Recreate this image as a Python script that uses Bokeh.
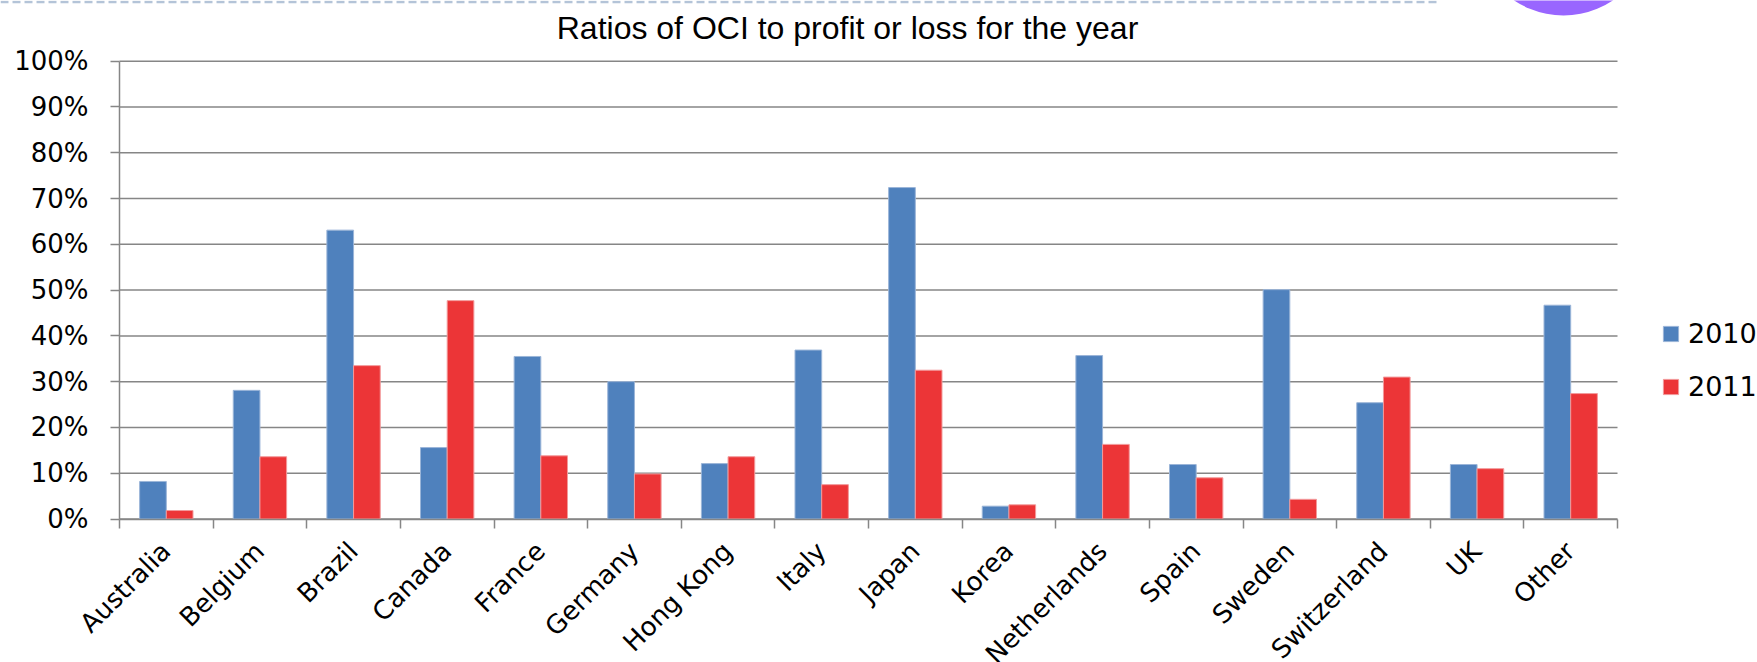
import numpy as np
from bokeh.plotting import figure
from bokeh.models import (Range1d, FixedTicker, PrintfTickFormatter, Legend, LegendItem, Label)
from bokeh.core.properties import value
from bokeh.embed import file_html
from bokeh.resources import INLINE

# ---------------- data ----------------
categories = ["Australia", "Belgium", "Brazil", "Canada", "France", "Germany",
              "Hong Kong", "Italy", "Japan", "Korea", "Netherlands", "Spain",
              "Sweden", "Switzerland", "UK", "Other"]
ratio_2010 = [8.2, 28.1, 63.1, 15.6, 35.5, 30.0, 12.1, 36.9, 72.4, 2.8, 35.7, 11.9, 50.1, 25.4, 11.9, 46.7]
ratio_2011 = [1.85, 13.6, 33.5, 47.7, 13.8, 9.85, 13.6, 7.5, 32.5, 3.1, 16.3, 9.0, 4.3, 31.0, 11.0, 27.4]
series_names = ["2010", "2011"]
y_ticks = [0, 10, 20, 30, 40, 50, 60, 70, 80, 90, 100]
title_text = "Ratios of OCI to profit or loss for the year"

# ---------------- layout (pixels on the 1757x662 page) ----------------
W, H = 1757, 662
FRAME_L, FRAME_R = 119, 1617      # plot area left / right
Y0_PX, Y100_PX = 518.5, 60.7      # 0% and 100% gridlines
n = len(categories)
KX = (FRAME_R - FRAME_L) / n
KY = (Y0_PX - Y100_PX) / 100.0


def dx(px):
    return (px - FRAME_L) / KX


def dy(py):
    return (Y0_PX - py) / KY


BLUE = "#4F81BD"
RED = "#EC3537"
GRID = "#868686"
FONT = "DejaVu Sans"
centers = np.arange(n) + 0.5
BAR_W = 0.285

p = figure(width=W, height=H, x_range=Range1d(dx(0), dx(W)), y_range=Range1d(dy(H), dy(0)),
           output_backend="svg", toolbar_location=None, min_border=0,
           outline_line_color=None)
p.grid.visible = False

# horizontal gridlines across the category span only
p.segment(x0=[0] * len(y_ticks), x1=[n] * len(y_ticks), y0=y_ticks, y1=y_ticks,
          line_color=GRID, line_width=1.5)

r1 = p.vbar(x=centers - BAR_W / 2, width=BAR_W, top=ratio_2010, bottom=0,
            fill_color=BLUE, line_color="#9bb5d8", line_width=1)
r2 = p.vbar(x=centers + BAR_W / 2, width=BAR_W, top=ratio_2011, bottom=0,
            fill_color=RED, line_color="#f29a9b", line_width=1)

# x axis at y=0: tick marks at category boundaries
xa = p.xaxis[0]
xa.fixed_location = 0
xa.bounds = (0, n)
xa.ticker = FixedTicker(ticks=list(centers), minor_ticks=list(range(n + 1)))
xa.major_tick_line_color = None
xa.major_label_text_color = None
xa.minor_tick_line_color = GRID
xa.minor_tick_line_width = 1.5
xa.minor_tick_out = 9
xa.minor_tick_in = 0
xa.axis_line_color = GRID
xa.axis_line_width = 1.5

# category labels, rotated 45 degrees
p.text(x=centers, y=[0] * n, text=categories, angle=np.pi / 4,
       text_align="right", text_baseline="top", x_offset=-11, y_offset=17,
       text_font=value(FONT), text_font_size="26px", text_color="#000000")

ya = p.yaxis[0]
ya.fixed_location = 0
ya.bounds = (0, 100)
ya.ticker = FixedTicker(ticks=y_ticks)
ya.formatter = PrintfTickFormatter(format="%d%%")
ya.major_tick_line_color = GRID
ya.major_tick_line_width = 1.5
ya.major_tick_out = 9
ya.major_tick_in = 0
ya.minor_tick_line_color = None
ya.axis_line_color = GRID
ya.axis_line_width = 1.5
ya.major_label_text_font = FONT
ya.major_label_text_font_size = "26px"
ya.major_label_text_color = "#000000"
ya.major_label_standoff = 22

# title
p.add_layout(Label(x=dx(847), y=dy(27), text=title_text, text_align="center",
                   text_baseline="middle", text_font="Liberation Sans",
                   text_font_size="32px", text_color="#000000"))

legend = Legend(items=[LegendItem(label=series_names[0], renderers=[r1]),
                       LegendItem(label=series_names[1], renderers=[r2])],
                location=(1661, 260), orientation="vertical",
                glyph_width=19, glyph_height=19,
                spacing=22, padding=0, margin=0, label_standoff=8,
                label_text_font=FONT, label_text_font_size="27px",
                label_text_color="#000000",
                border_line_color=None, background_fill_alpha=0)
p.add_layout(legend, "center")

# decorations from the source slide: dashed rule and purple disc at the top
p.segment(x0=[dx(0)], x1=[dx(1440)], y0=[dy(1.5)], y1=[dy(1.5)],
          line_color="#b4c4d8", line_width=2.5, line_dash="8 4")
p.scatter(x=[dx(1563)], y=[dy(-73)], size=176, marker="circle",
          fill_color="#9966ff", line_color=None)

open("out.html", "w").write(file_html(p, INLINE))
